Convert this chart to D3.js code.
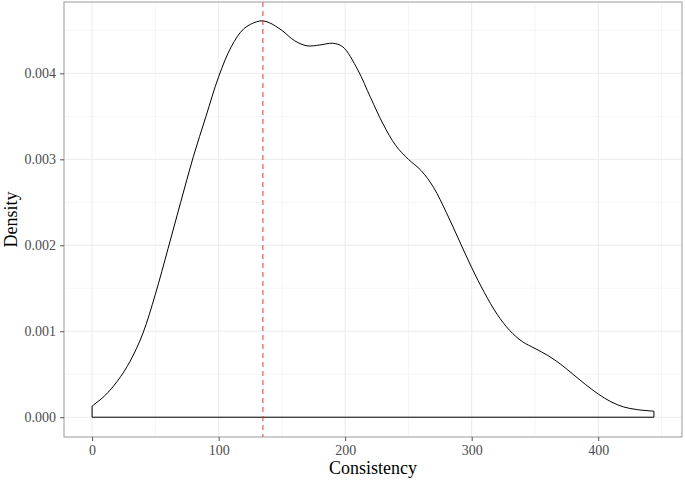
<!DOCTYPE html>
<html>
<head>
<meta charset="utf-8">
<script src="https://cdn.jsdelivr.net/npm/d3@7"></script>
<style>
  body { margin: 0; background: #fff; }
  text { font-family: "Liberation Serif", "DejaVu Serif", serif; }
</style>
</head>
<body>
<svg id="chart" width="685" height="481"></svg>
<script>
// density estimate
var consistency = [0, 10, 20, 30, 40, 50, 60, 70, 80, 90, 100, 110, 120, 130, 135, 140, 150, 160, 170, 180, 190, 198, 210, 220, 230, 240, 250, 260, 270, 280, 290, 300, 310, 320, 330, 340, 350, 360, 370, 380, 390, 400, 410, 420, 430, 444];
var density = [0.00013, 0.00025, 0.00042, 0.00065, 0.00097, 0.00143, 0.00196, 0.00250, 0.00303, 0.00350, 0.00396, 0.00431, 0.00452, 0.00460, 0.00461, 0.00459, 0.00450, 0.00438, 0.00432, 0.00433, 0.00435, 0.00431, 0.00404, 0.00372, 0.00341, 0.00316, 0.00300, 0.00287, 0.00267, 0.00238, 0.00206, 0.00174, 0.00145, 0.00120, 0.00101, 0.00088, 0.00080, 0.00072, 0.00062, 0.00050, 0.00038, 0.00027, 0.00018, 0.00012, 0.00009, 0.00007];
var refLine = 135;

var xTicks = [0, 100, 200, 300, 400];
var xMinor = [50, 150, 250, 350, 450];
var yTicks = [0, 0.001, 0.002, 0.003, 0.004];
var yMinor = [0.0005, 0.0015, 0.0025, 0.0035, 0.0045];

var svg = d3.select('#chart');
var pLeft = 64, pRight = 682, pTop = 2, pBottom = 437;

var xScale = d3.scaleLinear()
  .domain([-22.2, 466.2])
  .range([pLeft, pRight]);
var yScale = d3.scaleLinear()
  .domain([-0.00023, 0.00483])
  .range([pBottom, pTop]);

// grid
svg.selectAll('.xminor').data(xMinor).enter().append('line')
  .attr('x1', function (d) { return xScale(d); })
  .attr('x2', function (d) { return xScale(d); })
  .attr('y1', pTop).attr('y2', pBottom)
  .attr('stroke', '#ebebeb').attr('stroke-width', 0.5);
svg.selectAll('.yminor').data(yMinor).enter().append('line')
  .attr('y1', function (d) { return yScale(d); })
  .attr('y2', function (d) { return yScale(d); })
  .attr('x1', pLeft).attr('x2', pRight)
  .attr('stroke', '#ebebeb').attr('stroke-width', 0.5);
svg.selectAll('.xmajor').data(xTicks).enter().append('line')
  .attr('x1', function (d) { return xScale(d); })
  .attr('x2', function (d) { return xScale(d); })
  .attr('y1', pTop).attr('y2', pBottom)
  .attr('stroke', '#ebebeb').attr('stroke-width', 1);
svg.selectAll('.ymajor').data(yTicks).enter().append('line')
  .attr('y1', function (d) { return yScale(d); })
  .attr('y2', function (d) { return yScale(d); })
  .attr('x1', pLeft).attr('x2', pRight)
  .attr('stroke', '#ebebeb').attr('stroke-width', 1);

// density outline, closed along the baseline
var pts = consistency.map(function (c, i) { return [c, density[i]]; });
var line = d3.line()
  .x(function (d) { return xScale(d[0]); })
  .y(function (d) { return yScale(d[1]); })
  .curve(d3.curveCatmullRom.alpha(0.5));
var first = pts[0], last = pts[pts.length - 1];
svg.append('path')
  .attr('d', 'M' + xScale(first[0]) + ',' + yScale(0) + 'L' + xScale(first[0]) + ',' + yScale(first[1]) +
    line(pts).replace(/^M/, 'L') +
    'L' + xScale(last[0]) + ',' + yScale(0) + 'Z')
  .attr('fill', 'none').attr('stroke', '#000').attr('stroke-width', 1);

// reference line
svg.append('line')
  .attr('x1', xScale(refLine)).attr('x2', xScale(refLine))
  .attr('y1', pTop).attr('y2', pBottom)
  .attr('stroke', '#e8352e').attr('stroke-width', 1)
  .attr('stroke-dasharray', '5,4');

// panel border
svg.append('rect')
  .attr('x', pLeft).attr('y', pTop)
  .attr('width', pRight - pLeft).attr('height', pBottom - pTop)
  .attr('fill', 'none').attr('stroke', '#999').attr('stroke-width', 1);

// axes
var xAxis = svg.append('g')
  .attr('transform', 'translate(0,' + pBottom + ')')
  .call(d3.axisBottom(xScale).tickValues(xTicks).tickSize(4).tickPadding(4));
var yAxis = svg.append('g')
  .attr('transform', 'translate(' + pLeft + ',0)')
  .call(d3.axisLeft(yScale).tickValues(yTicks).tickSize(4).tickPadding(4)
    .tickFormat(d3.format('.3f')));
[xAxis, yAxis].forEach(function (g) {
  g.select('.domain').remove();
  g.selectAll('line').attr('stroke', '#555');
  g.selectAll('text')
    .attr('font-family', '"Liberation Serif", serif')
    .attr('font-size', '14px')
    .attr('fill', '#4d4d4d');
});

svg.append('text')
  .attr('x', (pLeft + pRight) / 2).attr('y', 474)
  .attr('text-anchor', 'middle')
  .attr('font-size', '18px')
  .text('Consistency');
svg.append('text')
  .attr('transform', 'translate(17,' + (pTop + pBottom) / 2 + ') rotate(-90)')
  .attr('text-anchor', 'middle')
  .attr('font-size', '18px')
  .text('Density');
</script>
</body>
</html>
